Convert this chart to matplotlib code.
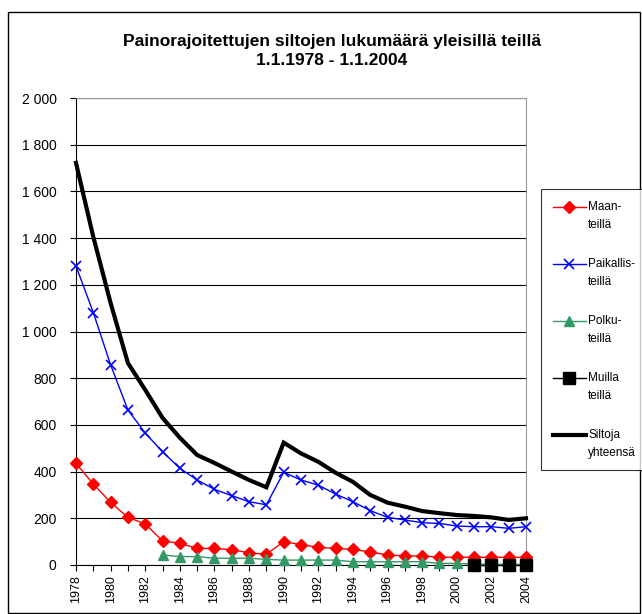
import numpy as np
import matplotlib.pyplot as plt
from matplotlib.patches import Rectangle
from matplotlib.ticker import FuncFormatter
from matplotlib.legend_handler import HandlerLine2D

plt.rcParams['font.family'] = ['Liberation Sans', 'DejaVu Sans']

years = np.arange(1978, 2005)
maan = [435, 347, 268, 204, 176, 103, 93, 71, 71, 66, 52, 46, 100, 87,
        76, 71, 67, 56, 43, 39, 39, 33, 33, 33, 33, 33, 33]
paikallis = [1280, 1081, 857, 664, 565, 485, 414, 364, 324, 297, 271, 258,
             397, 364, 342, 304, 271, 233, 204, 193, 181, 178, 167, 164,
             164, 157, 164]
polku_years = np.arange(1983, 2005)
polku = [43, 36, 36, 29, 29, 29, 24, 21, 21, 21, 21, 14, 14, 14, 14, 14,
         7, 7, 4, 3, 3, 3]
muilla_years = np.arange(2001, 2005)
muilla = [2, 2, 2, 2]
yhteensa = [1722, 1405, 1122, 865, 750, 630, 545, 471, 437, 400, 364, 333,
            524, 478, 442, 395, 356, 300, 267, 250, 231, 222, 214, 210,
            204, 193, 200]

labels = ['Maan-\nteillä', 'Paikallis-\nteillä', 'Polku-\nteillä',
          'Muilla\nteillä', 'Siltoja\nyhteensä']
title = 'Painorajoitettujen siltojen lukumäärä yleisillä teillä\n1.1.1978 - 1.1.2004'


class TopHandler(HandlerLine2D):
    # put the legend symbol next to the first text line, like Excel does
    def create_artists(self, legend, orig_handle, xdescent, ydescent,
                       width, height, fontsize, trans):
        arts = super().create_artists(legend, orig_handle, xdescent, ydescent,
                                      width, height, fontsize, trans)
        for a in arts:
            a.set_ydata(np.asarray(a.get_ydata()) + 0.8 * fontsize)
        return arts


fig = plt.figure(figsize=(6.42, 6.14), dpi=100)
ax = fig.add_axes([76 / 642, 1 - 565 / 614, 450 / 642, 467 / 614])

# outer chart frame
fig.patches.append(Rectangle((8 / 642, 1 / 614), 632 / 642, 601 / 614,
                             transform=fig.transFigure, fill=False,
                             edgecolor='black', linewidth=1))

h1, = ax.plot(years, maan, color='red', lw=1, marker='D', ms=6,
              markeredgecolor='red', clip_on=False, zorder=3)
h2, = ax.plot(years, paikallis, color='blue', lw=1, marker='x', ms=7,
              mew=1.2, clip_on=False, zorder=3)
h3, = ax.plot(polku_years, polku, color='#339966', lw=1, marker='^', ms=7,
              clip_on=False, zorder=3)
h4, = ax.plot(muilla_years, muilla, color='black', lw=1, marker='s', ms=9,
              clip_on=False, zorder=4)
h5, = ax.plot(years, yhteensa, color='black', lw=3, clip_on=False, zorder=5,
              solid_joinstyle='miter')

ax.set_xlim(1978, 2004)
ax.set_ylim(0, 2000)
ax.set_yticks(np.arange(0, 2001, 200))
ax.yaxis.set_major_formatter(FuncFormatter(lambda v, p: f'{int(v):,}'.replace(',', ' ')))
ax.set_xticks(years, minor=True)
ax.set_xticks(np.arange(1978, 2005, 2))
ax.tick_params(axis='x', which='both', direction='out', length=4, labelsize=9,
               labelrotation=90, width=0.8)
ax.tick_params(axis='y', direction='out', length=4, labelsize=10, width=0.8,
               pad=10)
ax.grid(axis='y', color='black', lw=0.8)
ax.set_axisbelow(True)
for s in ['top', 'right']:
    ax.spines[s].set_color('#999999')
for s in ['left', 'bottom']:
    ax.spines[s].set_color('black')

fig.text(332 / 642, 1 - 51 / 614, title, ha='center', va='center',
         fontsize=12.5, fontweight='bold', linespacing=1.35)

hmap = {h: TopHandler() for h in [h1, h2, h3, h4, h5]}
leg = fig.legend([h1, h2, h3, h4, h5], labels, loc='upper left',
                 bbox_to_anchor=(541 / 642, 1 - 189 / 614), fontsize=8.5,
                 frameon=True, fancybox=False, edgecolor='black',
                 labelspacing=2.3, handlelength=2.8, handletextpad=0.2,
                 borderpad=1.0, borderaxespad=0, handler_map=hmap)
leg.get_frame().set_linewidth(0.8)
plt.setp(leg.get_texts(), linespacing=1.65)

fig.savefig('out.png', dpi=100)
